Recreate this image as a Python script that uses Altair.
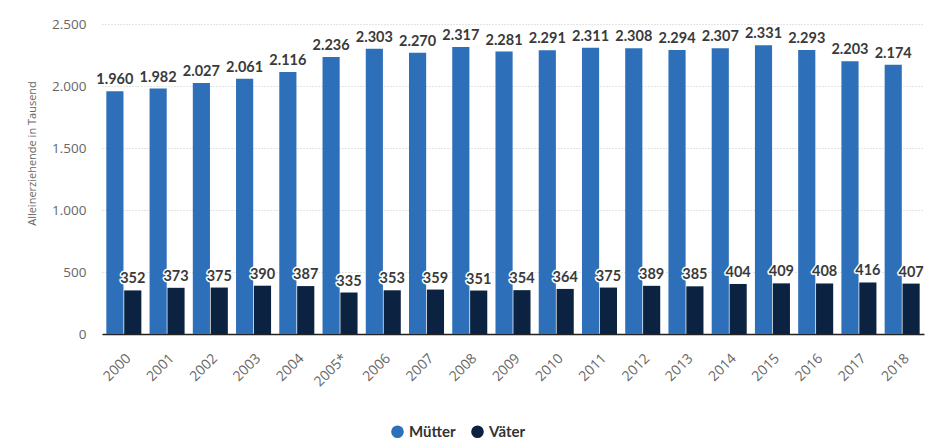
import altair as alt
import pandas as pd

years = ["2000", "2001", "2002", "2003", "2004", "2005*", "2006", "2007", "2008", "2009",
         "2010", "2011", "2012", "2013", "2014", "2015", "2016", "2017", "2018"]
muetter = [1960, 1982, 2027, 2061, 2116, 2236, 2303, 2270, 2317, 2281,
           2291, 2311, 2308, 2294, 2307, 2331, 2293, 2203, 2174]
vaeter = [352, 373, 375, 390, 387, 335, 353, 359, 351, 354,
          364, 375, 389, 385, 404, 409, 408, 416, 407]
series = ["Mütter", "Väter"]
colors = ["#2e6fba", "#0b2340"]

rows = []
for y, m, v in zip(years, muetter, vaeter):
    rows.append({"year": y, "series": series[0], "value": m})
    rows.append({"year": y, "series": series[1], "value": v})
df = pd.DataFrame(rows)

x_enc = alt.X("year:N", sort=years, title=None,
              scale=alt.Scale(paddingInner=0.19, paddingOuter=0.1),
              axis=alt.Axis(labelAngle=-45, labelAlign="right", labelBaseline="top",
                            labelFontSize=14, labelColor="#666666", labelFont="Open Sans",
                            labelPadding=17, ticks=False, domain=True, domainColor="#222222",
                            domainWidth=1.5, grid=False))
xo_enc = alt.XOffset("series:N", sort=series, scale=alt.Scale(domain=series, paddingInner=0.04))
y_enc = alt.Y("value:Q", scale=alt.Scale(domain=[0, 2500]),
              axis=alt.Axis(values=[0, 500, 1000, 1500, 2000, 2500],
                            labelExpr="replace(format(datum.value, ','), ',', '.')",
                            labelFontSize=13.5, labelColor="#666666", labelFont="Open Sans",
                            labelPadding=16, ticks=False, domain=False,
                            grid=True, gridColor="#c8c8c8", gridDash=[1, 2], gridWidth=1,
                            title="Alleinerziehende in Tausend", titleFontSize=11,
                            titleFont="Open Sans", titleFontWeight="normal",
                            titleColor="#666666", titlePadding=14, titleY=141))

base = alt.Chart(df).transform_calculate(
    label="replace(format(datum.value, ','), ',', '.')"
)

bars = base.mark_bar().encode(
    x=x_enc, xOffset=xo_enc, y=y_enc,
    color=alt.Color("series:N", sort=series,
                    scale=alt.Scale(domain=series, range=colors),
                    legend=alt.Legend(title=None, orient="none", direction="horizontal",
                                      legendX=288, legendY=412, symbolType="circle",
                                      symbolSize=160, symbolStrokeWidth=0,
                                      labelFontSize=15, labelFontWeight="bold",
                                      labelFont="Lato", labelColor="#333333",
                                      columnPadding=14, symbolOpacity=1))
)

halo = base.mark_text(baseline="bottom", dy=-4, fontSize=14.5, fontWeight="bold",
                      font="Lato", stroke="white", strokeWidth=3, color="white",
                      strokeJoin="round").encode(
    x=alt.X("year:N", sort=years), xOffset=alt.XOffset("series:N", sort=series),
    y="value:Q", text="label:N"
)
labels = base.mark_text(baseline="bottom", dy=-4, fontSize=14.5, fontWeight="bold",
                        font="Lato", color="#3a3a3a").encode(
    x=alt.X("year:N", sort=years), xOffset=alt.XOffset("series:N", sort=series),
    y="value:Q", text="label:N"
)

chart = alt.layer(bars, halo, labels).properties(
    width=822, height=322,
    autosize=alt.AutoSizeParams(type="none"),
    padding={"left": 102, "top": 12, "right": 10, "bottom": 108},
    background="white",
).configure_view(stroke=None)

chart.save("out.html", embed_options={"renderer": "svg", "actions": False})
